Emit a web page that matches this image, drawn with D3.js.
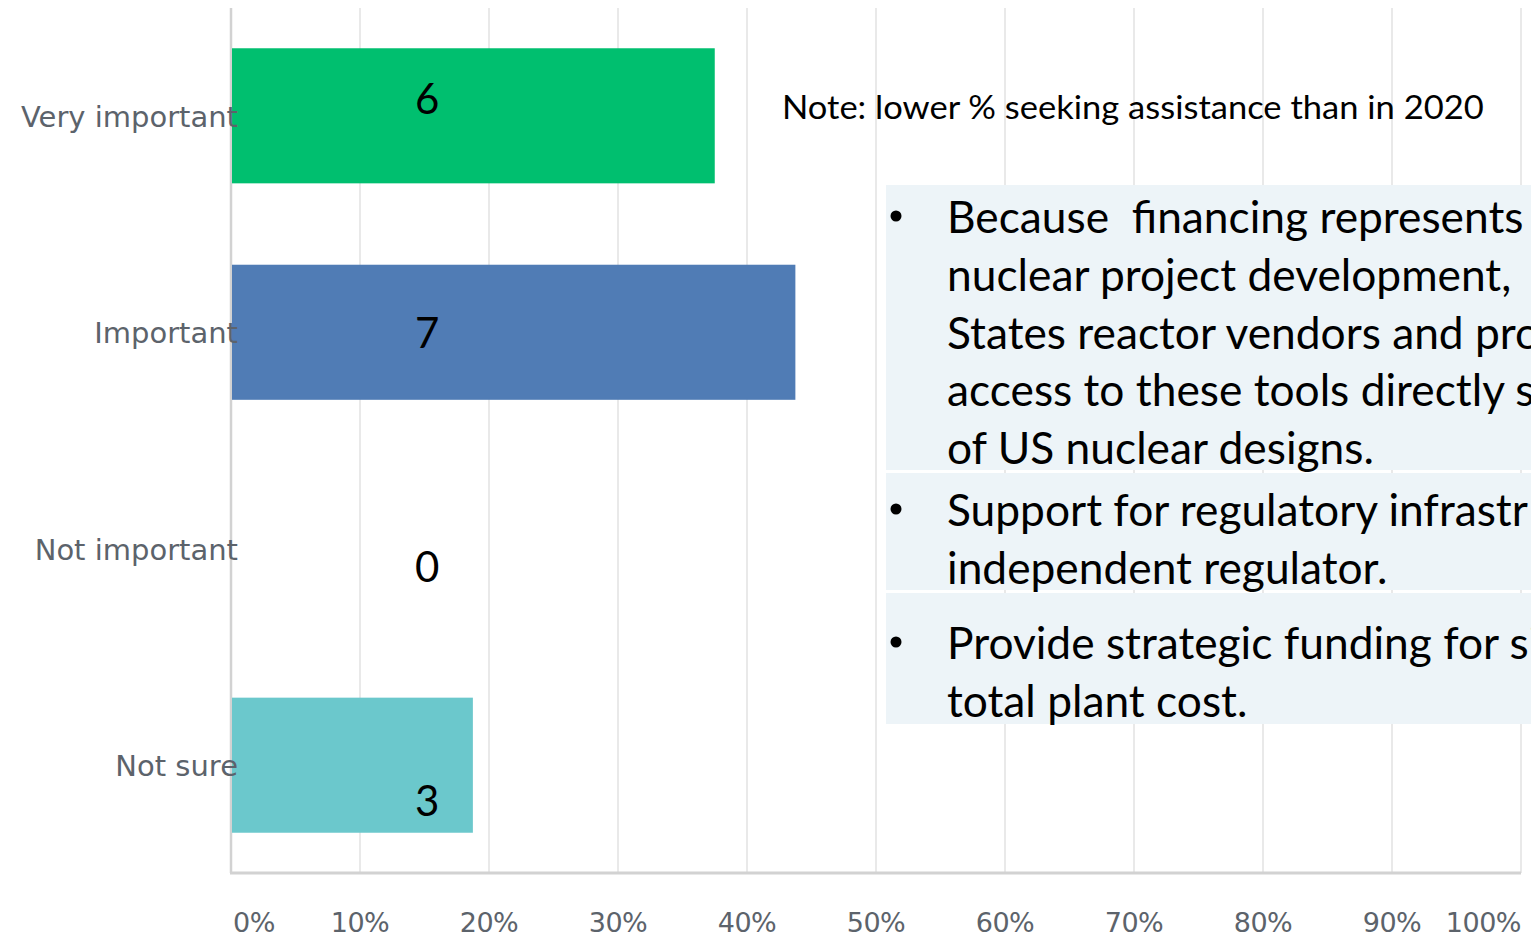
<!DOCTYPE html>
<html>
<head>
<meta charset="utf-8">
<script src="https://cdn.jsdelivr.net/npm/d3@7"></script>
<style>
  html, body { margin: 0; padding: 0; background: #fff; }
  svg { display: block; }
</style>
</head>
<body>
<svg id="chart"></svg>
<script>
// survey answers
const categories = ["Very important", "Important", "Not important", "Not sure"];
const counts = [6, 7, 0, 3];
const barColors = ["#00bf6f", "#507cb5", "#6bc8cc", "#6bc8cc"];
const tickValues = [0, 0.1, 0.2, 0.3, 0.4, 0.5, 0.6, 0.7, 0.8, 0.9, 1];
const tickLabels = ["0%", "10%", "20%", "30%", "40%", "50%", "60%", "70%", "80%", "90%", "100%"];

// slide overlay text
const noteText = "Note: lower % seeking assistance than in 2020";
const bulletLines = [
  ["Because  financing represents", "nuclear project development,", "States reactor vendors and pro", "access to these tools directly s", "of US nuclear designs."],
  ["Support for regulatory infrastr", "independent regulator."],
  ["Provide strategic funding for si", "total plant cost."]
];

const W = 1531, H = 938;
const total = d3.sum(counts);
const shares = counts.map(c => c / total);

const svg = d3.select("#chart").attr("width", W).attr("height", H);
svg.append("rect").attr("width", W).attr("height", H).attr("fill", "#fff");

const plotTop = 8, plotBottom = 873;
const x = d3.scaleLinear().domain([0, 1]).range([231, 1521]);
const y = d3.scaleBand()
    .domain(categories)
    .range([plotTop, plotBottom])
    .paddingInner(0.376)
    .paddingOuter(0.186);

// grid
svg.append("g")
    .selectAll("line")
    .data(tickValues.slice(1))
    .join("line")
    .attr("x1", d => x(d)).attr("x2", d => x(d))
    .attr("y1", plotTop).attr("y2", plotBottom)
    .attr("stroke", "#e9e9e9")
    .attr("stroke-width", 2);

// axis lines
svg.append("line")
    .attr("x1", x(0)).attr("x2", x(0))
    .attr("y1", plotTop).attr("y2", plotBottom)
    .attr("stroke", "#d2d2d2").attr("stroke-width", 2.5);
svg.append("line")
    .attr("x1", x(0) - 1).attr("x2", x(1))
    .attr("y1", plotBottom).attr("y2", plotBottom)
    .attr("stroke", "#d2d2d2").attr("stroke-width", 3);

// tick labels
svg.append("g")
    .selectAll("text")
    .data(tickValues)
    .join("text")
    .attr("x", (d, i) => i === 0 ? x(d) + 2 : x(d))
    .attr("y", 924)
    .attr("text-anchor", (d, i) => i === 0 ? "start" : (i === tickValues.length - 1 ? "end" : "middle"))
    .attr("dominant-baseline", "middle")
    .attr("font-family", "'DejaVu Sans', sans-serif")
    .attr("font-size", 27)
    .attr("letter-spacing", -0.5)
    .attr("fill", "#5c636b")
    .text((d, i) => tickLabels[i]);

// bars
svg.append("g")
    .selectAll("rect")
    .data(categories)
    .join("rect")
    .attr("x", x(0) + 1)
    .attr("y", d => y(d))
    .attr("width", (d, i) => Math.max(0, x(shares[i]) - x(0) - 1))
    .attr("height", y.bandwidth())
    .attr("fill", (d, i) => barColors[i]);

// category labels
svg.append("g")
    .selectAll("text")
    .data(categories)
    .join("text")
    .attr("x", 238)
    .attr("y", d => y(d) + y.bandwidth() / 2 + 3)
    .attr("text-anchor", "end")
    .attr("dominant-baseline", "middle")
    .attr("font-family", "'DejaVu Sans', sans-serif")
    .attr("font-size", 29)
    .attr("fill", "#5c636b")
    .text(d => d);

// count labels placed by the slide overlay
const countY = d3.scalePoint().domain(categories).range([98, 800]);
svg.append("g")
    .selectAll("text")
    .data(categories)
    .join("text")
    .attr("x", x(0.152))
    .attr("y", d => countY(d))
    .attr("text-anchor", "middle")
    .attr("dominant-baseline", "central")
    .attr("font-family", "Lato, 'Open Sans', sans-serif")
    .attr("font-size", 42)
    .attr("fill", "#000")
    .text((d, i) => counts[i]);

// note
const note = svg.append("g");
const noteT = note.append("text")
    .attr("x", 0)
    .attr("y", 106)
    .attr("dominant-baseline", "central")
    .attr("font-family", "Lato, sans-serif")
    .attr("font-size", 33)
    .attr("fill", "#000")
    .text(noteText);
const noteW = noteT.node().getComputedTextLength();
note.attr("transform", `translate(782,0) scale(${702 / noteW},1)`);

// bullet panels
const panels = [
  {top: 185, bottom: 470, first: 216},
  {top: 473, bottom: 590, first: 509},
  {top: 593, bottom: 724, first: 642}
];
const lineH = 57.7;
const box = svg.append("g");
box.selectAll("rect")
    .data(panels)
    .join("rect")
    .attr("x", 886)
    .attr("y", d => d.top)
    .attr("width", W - 886)
    .attr("height", d => d.bottom - d.top)
    .attr("fill", "#edf4f8");

box.selectAll("circle")
    .data(panels)
    .join("circle")
    .attr("cx", 896)
    .attr("cy", d => d.first)
    .attr("r", 5.5)
    .attr("fill", "#000");

const textG = box.append("g");
panels.forEach((p, k) => {
  textG.selectAll(null)
      .data(bulletLines[k])
      .join("text")
      .attr("x", 0)
      .attr("y", (d, i) => p.first + i * lineH)
      .attr("dominant-baseline", "central")
      .attr("font-family", "Lato, sans-serif")
      .attr("font-size", 45)
      .attr("fill", "#000")
      .style("white-space", "pre")
      .text(d => d);
});
// fit glyph widths to the slide's narrow face
const refW = textG.selectAll("text").filter(d => d === "of US nuclear designs.").node().getComputedTextLength();
textG.attr("transform", `translate(947,0) scale(${427 / refW},1)`);
</script>
</body>
</html>
